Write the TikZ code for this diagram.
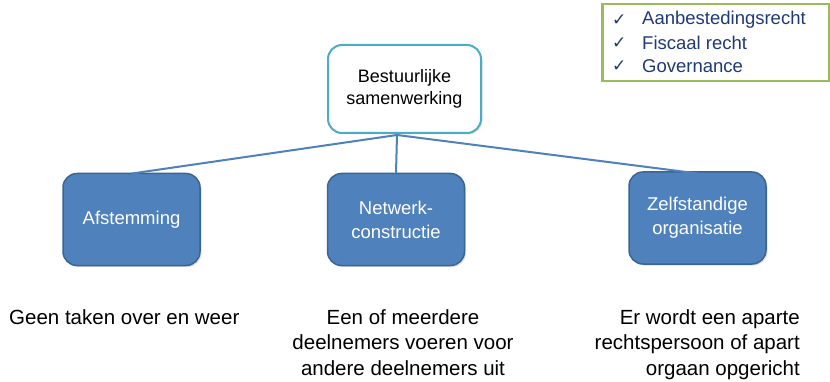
\documentclass[tikz,border=0pt]{standalone}
\usepackage{fontspec}
\setmainfont{Liberation Sans}
\usetikzlibrary{shadows}
\definecolor{boxblue}{HTML}{4F81BD}
\definecolor{boxedge}{HTML}{3A6595}
\definecolor{topedge}{HTML}{4BACC6}
\definecolor{greenedge}{HTML}{9BBB59}
\definecolor{listblue}{HTML}{1F3A78}
\tikzset{
  subbox/.style={draw=boxedge, line width=1.5pt, fill=boxblue, rounded corners=14pt,
    minimum width=137pt, minimum height=92pt, text=white, align=center,
    font=\fontsize{18.5}{24}\selectfont,
    drop shadow={opacity=0.25, shadow xshift=1.5pt, shadow yshift=-1.5pt}},
  topbox/.style={draw=topedge, line width=2pt, fill=white, rounded corners=14pt,
    minimum width=153pt, minimum height=88pt, align=center,
    font=\fontsize{18}{22.5}\selectfont,
    drop shadow={opacity=0.2, shadow xshift=1.5pt, shadow yshift=-1.5pt}},
  conn/.style={draw=boxblue, line width=2pt},
  desc/.style={font=\fontsize{20.5}{25.5}\selectfont, inner sep=0pt},
  listitem/.style={font=\fontsize{18.5}{20}\selectfont, text=listblue, anchor=west, inner sep=0pt}
}
\begin{document}
\begin{tikzpicture}[x=1pt,y=-1pt]
\useasboundingbox[fill=white] (0,0) rectangle (830,382);
% green list box
\node[draw=greenedge, line width=2.5pt, minimum width=227pt, minimum height=77pt, anchor=north west] (list) at (601,3) {};
\foreach \i/\t in {0/Aanbestedingsrecht,1/Fiscaal recht,2/Governance}{
  \node[listitem] (chk\i) at (612,20+23*\i) {\fontspec{DejaVu Sans}\fontsize{17}{18}\selectfont ✓};
  \node[listitem] (it\i) at (642,20+23*\i) {\t};
}
% top box
\node[topbox] (top) at (404.5,89) {Bestuurlijke\\samenwerking};
\coordinate (hub) at (397,135);
% sub boxes
\node[subbox] (a) at (131.5,219.5) {Afstemming};
\node[subbox] (n) at (396,219.5) {Netwerk-\\constructie};
\node[subbox] (z) at (697.5,218) {Zelfstandige\\organisatie};
\coordinate (aend) at (132,173.5);
\coordinate (zend) at (698,173.5);
\draw[conn] (hub) -- (aend);
\draw[conn] (hub) -- (n.north);
\draw[conn] (hub) -- (zend);
% descriptions (base anchor = last line's baseline)
\node[desc, anchor=base west] (d1) at (9,324) {Geen taken over en weer};
\node[desc, align=center, anchor=base] (d2) at (403,375) {Een of meerdere\\deelnemers voeren voor\\andere deelnemers uit};
\node[desc, align=right, anchor=base east] (d3) at (800,375) {Er wordt een aparte\\rechtspersoon of apart\\orgaan opgericht};
\end{tikzpicture}
\end{document}
